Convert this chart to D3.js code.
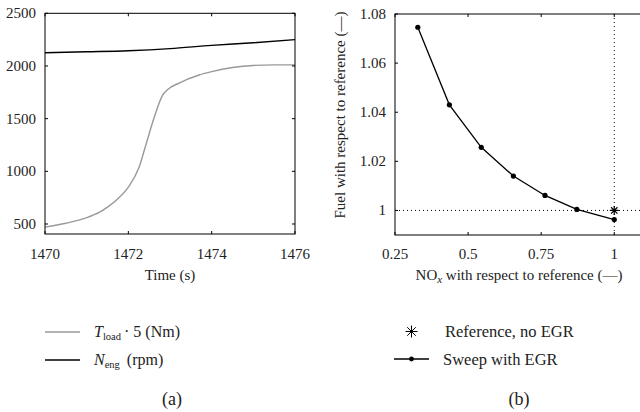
<!DOCTYPE html>
<html>
<head>
<meta charset="utf-8">
<script src="https://cdn.jsdelivr.net/npm/d3@7"></script>
<style>
  body { margin: 0; background: #fff; }
</style>
</head>
<body>
<div id="chart"></div>
<script>
// (a) engine transient
const timeS = [1470, 1470.5, 1471, 1471.3, 1471.5, 1471.75, 1472, 1472.26, 1472.42, 1472.62, 1472.82, 1472.94, 1473.22, 1473.7, 1474, 1474.5, 1475, 1475.5, 1476];
const tLoad5 = [470, 507, 560, 610, 660, 740, 850, 1040, 1250, 1510, 1720, 1775, 1838, 1914, 1946, 1985, 2005, 2010, 2010];
const nEngTime = [1470, 1471, 1472, 1473, 1474, 1475, 1476];
const nEng = [2126, 2135, 2145, 2165, 2196, 2220, 2250];
const ticksA_x = [1470, 1472, 1474, 1476];
const ticksA_y = [500, 1000, 1500, 2000, 2500];

// (b) EGR sweep
const noxRel = [0.328, 0.436, 0.545, 0.655, 0.763, 0.872, 1.0];
const fuelRel = [1.0746, 1.043, 1.0257, 1.014, 1.0061, 1.0004, 0.9963];
const refPoint = [1, 1];
const ticksB_x = [0.25, 0.5, 0.75, 1];
const ticksB_y = [1, 1.02, 1.04, 1.06, 1.08];

const W = 640, H = 412;
const FONT = '"Liberation Serif", "Times New Roman", serif';
const svg = d3.select('#chart').append('svg')
  .attr('width', W).attr('height', H)
  .attr('font-family', FONT);

const FS = 15;
const TXT = '#222';

// --- helpers ---
function frame(g, x, y, xt, yt, xfmt, yfmt) {
  const [x0, x1] = x.range();
  const [y0, y1] = y.range();
  g.append('rect')
    .attr('x', x0).attr('y', y1)
    .attr('width', x1 - x0).attr('height', y0 - y1)
    .attr('fill', 'none').attr('stroke', '#000').attr('stroke-width', 1);
  // inward ticks, mirrored
  xt.forEach(v => {
    g.append('line').attr('x1', x(v)).attr('x2', x(v)).attr('y1', y0).attr('y2', y0 - 3).attr('stroke', '#000');
    g.append('line').attr('x1', x(v)).attr('x2', x(v)).attr('y1', y1).attr('y2', y1 + 3).attr('stroke', '#000');
    g.append('text').attr('x', x(v)).attr('y', 259).attr('fill', TXT)
      .attr('text-anchor', 'middle').attr('font-size', FS).text(xfmt(v));
  });
  yt.forEach(v => {
    g.append('line').attr('x1', x0).attr('x2', x0 + 3).attr('y1', y(v)).attr('y2', y(v)).attr('stroke', '#000');
    g.append('line').attr('x1', x1).attr('x2', x1 - 3).attr('y1', y(v)).attr('y2', y(v)).attr('stroke', '#000');
    g.append('text').attr('x', x0 - 9).attr('y', y(v) + 5).attr('fill', TXT)
      .attr('text-anchor', 'end').attr('font-size', FS).text(yfmt(v));
  });
}

// ================= (a) =================
const xA = d3.scaleLinear().domain([1470, 1476]).range([45, 295]);
const yA = d3.scaleLinear().domain([405, 2500]).range([234, 13.3]);
const gA = svg.append('g');

gA.append('path')
  .datum(timeS.map((t, i) => [t, tLoad5[i]]))
  .attr('fill', 'none').attr('stroke', '#999').attr('stroke-width', 1.4)
  .attr('d', d3.line().x(d => xA(d[0])).y(d => yA(d[1])).curve(d3.curveMonotoneX));

gA.append('path')
  .datum(nEngTime.map((t, i) => [t, nEng[i]]))
  .attr('fill', 'none').attr('stroke', '#000').attr('stroke-width', 1.4)
  .attr('d', d3.line().x(d => xA(d[0])).y(d => yA(d[1])).curve(d3.curveMonotoneX));

frame(gA, xA, yA, ticksA_x, ticksA_y, d => d, d => d);

gA.append('text').attr('x', 170).attr('y', 280).attr('text-anchor', 'middle').attr('fill', TXT)
  .attr('font-size', FS).text('Time (s)');

// legend (a)
gA.append('line').attr('x1', 45).attr('x2', 80).attr('y1', 332).attr('y2', 332)
  .attr('stroke', '#999').attr('stroke-width', 1.4);
gA.append('line').attr('x1', 45).attr('x2', 80).attr('y1', 360).attr('y2', 360)
  .attr('stroke', '#000').attr('stroke-width', 1.4);
const l1 = gA.append('text').attr('x', 94).attr('y', 337).attr('font-size', 16).attr('fill', TXT);
l1.append('tspan').attr('font-style', 'italic').text('T');
l1.append('tspan').attr('font-size', 10.5).attr('dy', 3).text('load');
l1.append('tspan').attr('dy', -3).attr('dx', 3).text('· 5 (Nm)');
const l2 = gA.append('text').attr('x', 94).attr('y', 365).attr('font-size', 16).attr('fill', TXT);
l2.append('tspan').attr('font-style', 'italic').text('N');
l2.append('tspan').attr('font-size', 10.5).attr('dy', 3).text('eng');
l2.append('tspan').attr('dy', -3).attr('dx', 7).text('(rpm)');

gA.append('text').attr('x', 172).attr('y', 405).attr('text-anchor', 'middle').attr('fill', TXT)
  .attr('font-size', 18).text('(a)');

// ================= (b) =================
const xB = d3.scaleLinear().domain([0.25, 1.1]).range([395, 643.5]);
const yB = d3.scaleLinear().domain([0.99, 1.08]).range([235, 14]);
const gB = svg.append('g');

// dotted reference lines
gB.append('line').attr('x1', xB(0.25)).attr('x2', xB(1.1)).attr('y1', yB(refPoint[1])).attr('y2', yB(refPoint[1]))
  .attr('stroke', '#000').attr('stroke-width', 1).attr('stroke-dasharray', '1,3');
gB.append('line').attr('x1', xB(refPoint[0])).attr('x2', xB(refPoint[0])).attr('y1', yB(1.08)).attr('y2', yB(0.99))
  .attr('stroke', '#000').attr('stroke-width', 1).attr('stroke-dasharray', '1,3');

gB.append('path')
  .datum(noxRel.map((v, i) => [v, fuelRel[i]]))
  .attr('fill', 'none').attr('stroke', '#000').attr('stroke-width', 1.3)
  .attr('d', d3.line().x(d => xB(d[0])).y(d => yB(d[1])));

gB.selectAll('circle.pt')
  .data(noxRel.map((v, i) => [v, fuelRel[i]]))
  .join('circle').attr('class', 'pt')
  .attr('cx', d => xB(d[0])).attr('cy', d => yB(d[1]))
  .attr('r', 2.6).attr('fill', '#000');

function star(g, cx, cy, r, sw) {
  const a = r * Math.SQRT1_2;
  const p = `M${cx - r},${cy}L${cx + r},${cy}M${cx},${cy - r}L${cx},${cy + r}` +
    `M${cx - a},${cy - a}L${cx + a},${cy + a}M${cx - a},${cy + a}L${cx + a},${cy - a}`;
  g.append('path').attr('d', p).attr('stroke', '#000').attr('stroke-width', sw).attr('fill', 'none');
}
star(gB, xB(refPoint[0]), yB(refPoint[1]), 4.5, 1.2);

frame(gB, xB, yB, ticksB_x, ticksB_y, d => d, d => d === 1 ? '1' : d3.format('.2f')(d));

const xl = gB.append('text').attr('x', 519).attr('y', 280).attr('text-anchor', 'middle').attr('font-size', FS).attr('fill', TXT);
xl.append('tspan').text('NO');
xl.append('tspan').attr('font-style', 'italic').attr('font-size', 11).attr('dy', 3).text('x');
xl.append('tspan').attr('dy', -3).text(' with respect to reference (—)');

gB.append('text').attr('transform', 'translate(345,115) rotate(-90)').attr('fill', TXT)
  .attr('text-anchor', 'middle').attr('font-size', FS)
  .text('Fuel with respect to reference (—)');

// legend (b)
star(gB, 411.5, 331.5, 6, 1);
gB.append('line').attr('x1', 394).attr('x2', 429).attr('y1', 359).attr('y2', 359)
  .attr('stroke', '#000').attr('stroke-width', 1.3);
gB.append('circle').attr('cx', 411.5).attr('cy', 359).attr('r', 2.4).attr('fill', '#000');
gB.append('text').attr('x', 445).attr('y', 337).attr('font-size', 16.5).attr('fill', TXT).text('Reference, no EGR');
gB.append('text').attr('x', 443).attr('y', 365).attr('font-size', 16.5).attr('fill', TXT).text('Sweep with EGR');

gB.append('text').attr('x', 519).attr('y', 405).attr('text-anchor', 'middle').attr('fill', TXT)
  .attr('font-size', 18).text('(b)');
</script>
</body>
</html>
